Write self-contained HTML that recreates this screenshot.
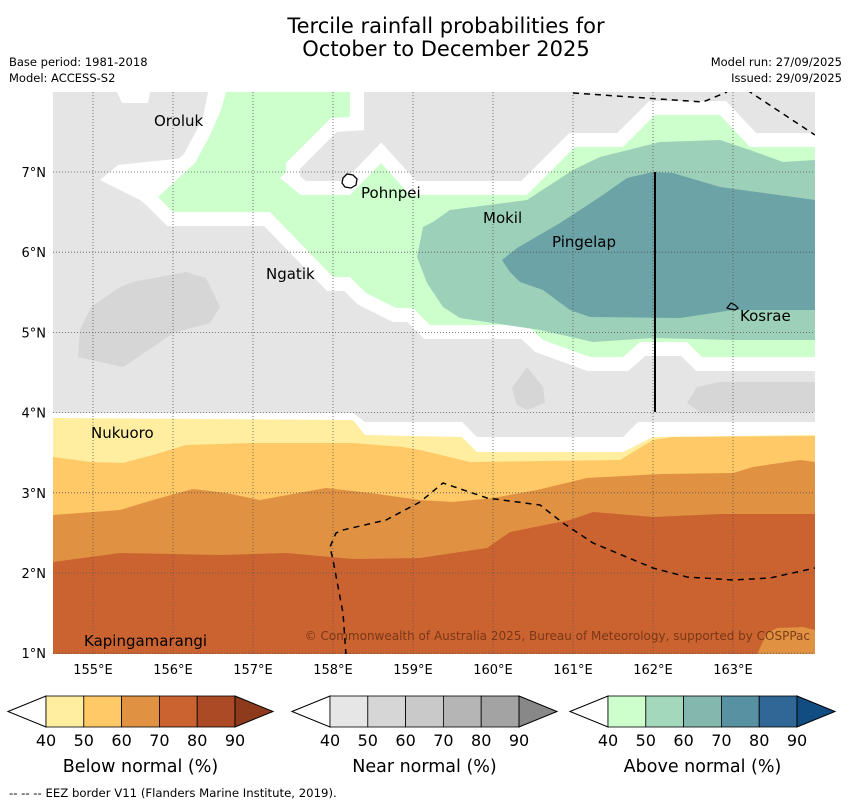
<!DOCTYPE html>
<html><head><meta charset="utf-8"><style>
body{margin:0;background:#fff;width:850px;height:804px;overflow:hidden}
svg{display:block;font-family:"DejaVu Sans","Liberation Sans",sans-serif}
</style></head><body>
<svg id="chart" width="850" height="804" viewBox="0 0 850 804">
<text x="446" y="33" font-size="21" text-anchor="middle">Tercile rainfall probabilities for</text>
<text x="446" y="56" font-size="21" text-anchor="middle">October to December 2025</text>
<text x="9" y="66" font-size="11.5">Base period: 1981-2018</text>
<text x="9" y="82" font-size="11.5">Model: ACCESS-S2</text>
<text x="842" y="66" font-size="11.5" text-anchor="end">Model run: 27/09/2025</text>
<text x="842" y="82" font-size="11.5" text-anchor="end">Issued: 29/09/2025</text>
<defs><clipPath id="mc"><rect x="53" y="92" width="762" height="562"/></clipPath></defs>
<g clip-path="url(#mc)">
<rect x="53" y="92" width="762" height="562" fill="#e5e5e5"/>
<polygon fill="#d6d6d6" points="78,357 80,330 91,307 120,287 133,282 186,272 206,278 220,307 210,323 173,333 153,347 123,367"/>
<polygon fill="#d6d6d6" points="512,388 527,367 543,387 545,403 527,410 517,405"/>
<polygon fill="#d6d6d6" points="687,403 697,387 720,382 815,382 815,412 700,412"/>
<polygon fill="#fff" points="117,92 150,92 148,103 122,103"/>
<polygon fill="#fff" points="100,180 118,165 185,158 200,133 208,92 230,92 230,200 173,227 140,200"/>
<polygon fill="#ccffcc" stroke="#fff" stroke-width="28" stroke-linejoin="miter" paint-order="stroke" points="226,92 350,92 350,117 331,118 286,163 286,172 280,178 301,195 350,195 381,163 410,195 527,195 575,147 623,147 655,115 720,115 750,147 815,147 815,357 702,357 687,342 640,342 623,357 590,357 543,340 527,325 430,325 413,308 396,308 366,293 350,277 333,277 270,212 173,212 158,197 195,163 210,135 221,110"/>
<polygon fill="#9dd0b8" points="417,257 423,227 433,222 450,210 527,200 573,170 600,157 660,142 720,140 750,150 783,162 815,160 815,340 733,340 653,338 593,342 540,330 460,318 443,307 427,283"/>
<polygon fill="#6ba3a6" points="502,260 517,248 560,223 600,197 627,178 653,172 673,173 720,187 815,200 815,310 733,310 680,318 590,317 570,310 543,290 520,282 510,272"/>
<polygon fill="#fff" points="53,413 353,413 365,422 462,422 477,437 623,437 638,422 815,422 815,654 53,654"/>
<polygon fill="#ffeda0" points="53,418 353,420 365,435 462,437 477,452 623,452 653,437 815,435 815,654 53,654"/>
<polygon fill="#fec966" points="53,457 90,462 123,463 153,455 186,445 253,443 353,443 403,447 420,450 470,462 620,460 653,440 673,437 815,436 815,654 53,654"/>
<polygon fill="#e09142" points="53,515 120,510 153,500 193,489 226,493 260,500 326,488 370,493 420,500 453,502 493,498 537,490 587,478 660,474 733,473 753,467 800,460 815,462 815,654 53,654"/>
<polygon fill="#cb6331" points="53,562 120,553 220,555 286,553 353,559 420,558 487,548 510,532 570,520 593,512 653,517 720,514 815,514 815,654 53,654"/>
<polygon fill="#e09142" points="757,654 767,633 777,628 803,627 815,630 815,654"/>
<g id="grid" stroke="#555" stroke-width="0.8" stroke-dasharray="1,2"></g>
<g fill="none" stroke="#000" stroke-width="1.5" stroke-dasharray="6,5">
<polyline points="573,93 703,102 727,92"/>
<polyline points="747,90 815,135"/>
<polyline points="346,655 343,613 333,560 330,547 336,533 343,530 386,520 420,502 443,483 487,498 540,505 563,523 593,543 653,568 687,577 733,580 770,578 815,568"/>
</g>
<line x1="655" y1="172" x2="655" y2="412" stroke="#000" stroke-width="2"/>
<path d="M343,178 l4,-4 6,1 4,4 -1,6 -5,3 -6,-1 -3,-4z" fill="#fff" stroke="#000" stroke-width="1.3"/>
<path d="M727,308 l4,-5 4,2 3,3 -3,2 -5,-1z" fill="none" stroke="#000" stroke-width="1.2"/>
<g font-size="15" fill="#000">
<text x="154" y="126">Oroluk</text>
<text x="361" y="198">Pohnpei</text>
<text x="483" y="223">Mokil</text>
<text x="552" y="247">Pingelap</text>
<text x="266" y="279">Ngatik</text>
<text x="740" y="321">Kosrae</text>
<text x="91" y="438">Nukuoro</text>
<text x="84" y="646">Kapingamarangi</text>
</g>
<text x="810" y="640" font-size="12" fill="#6b2f12" fill-opacity="0.85" text-anchor="end">© Commonwealth of Australia 2025, Bureau of Meteorology, supported by COSPPac</text>
</g>
<g id="axes" font-size="13"></g>
<g id="bars"></g>
<text x="9" y="797" font-size="11.7">-- -- -- EEZ border V11 (Flanders Marine Institute, 2019).</text>
</svg>
<script>
const lonTicks = [155,156,157,158,159,160,161,162,163];
const latTicks = [7,6,5,4,3,2,1];
const cbTicks = [40,50,60,70,80,90];
const cbTitles = ["Below normal (%)","Near normal (%)","Above normal (%)"];
const cbColors = [
 ["#ffeda0","#fec966","#e09142","#cb6331","#ab4a25","#8e3a1c"],
 ["#e6e6e6","#d6d6d6","#c9c9c9","#b5b5b5","#a3a3a3","#888888"],
 ["#ccffcc","#a3d8bc","#84b8af","#5891a1","#306796","#124d82"]];
(function(){
const NS="http://www.w3.org/2000/svg";
const xLon = v => 93 + (v-155)*80;
const yLat = v => 172 + (7-v)*80.2;
function mk(t,a,p){const e=document.createElementNS(NS,t);for(const k in a)e.setAttribute(k,a[k]);p.appendChild(e);return e;}
const grid=document.getElementById('grid'), axes=document.getElementById('axes');
lonTicks.forEach(v=>{
 const l=mk('line',{x1:xLon(v),x2:xLon(v),y1:92,y2:654},grid);
 
 
 const t=mk('text',{x:xLon(v),y:674,'text-anchor':'middle'},axes);t.textContent=v+'°E';
 
 
});
latTicks.forEach(v=>{
 const l=mk('line',{x1:53,x2:815,y1:yLat(v),y2:yLat(v)},grid);
 
 
 const t=mk('text',{x:46,y:yLat(v)+5,'text-anchor':'end'},axes);t.textContent=v+'°N';
 
 
});
const bars=document.getElementById('bars');
const starts=[46,330,608], w=37.8, bTop=696, h=31;
cbColors.forEach((cols,i)=>{
 const x0=starts[i];
 const g=mk('g',{},bars);
 
 
 const lt=mk('polygon',{points:`${x0-38},${bTop+h/2} ${x0},${bTop} ${x0},${bTop+h}`,fill:'#fff',stroke:'#000','stroke-width':1},g);
 
 
 for(let k=0;k<5;k++){
  const r=mk('rect',{x:x0+k*w,y:bTop,width:w,height:h,fill:cols[k],stroke:'#000','stroke-width':0.8},g);
  
  
 }
 const xe=x0+5*w;
 const rt=mk('polygon',{points:`${xe},${bTop} ${xe+38},${bTop+h/2} ${xe},${bTop+h}`,fill:cols[5],stroke:'#000','stroke-width':1},g);
 
 
 cbTicks.forEach((v,k)=>{
  const t=mk('text',{x:x0+k*w,y:746,'font-size':16,'text-anchor':'middle'},g);t.textContent=v;
  
  
 });
 const tt=mk('text',{x:x0+2.5*w,y:772,'font-size':17.5,'text-anchor':'middle'},g);tt.textContent=cbTitles[i];
 
 
});
})();
</script>
</body></html>
